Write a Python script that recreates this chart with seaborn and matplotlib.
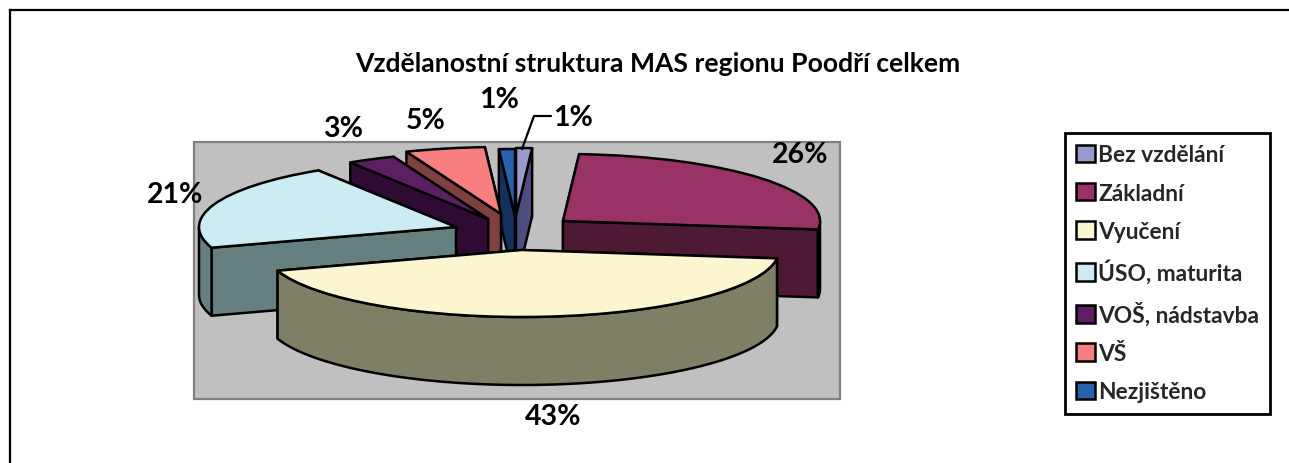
import numpy as np
import matplotlib
matplotlib.use("Agg")
import matplotlib.pyplot as plt
from matplotlib.patches import Polygon, Patch, Rectangle
import seaborn as sns

# ---- data ----
categories = ["Bez vzdělání", "Základní", "Vyučení", "ÚSO, maturita", "VOŠ, nádstavba", "VŠ", "Nezjištěno"]
shares = [1, 26, 43, 21, 3, 5, 1]
title_text = "Vzdělanostní struktura MAS regionu Poodří celkem"

# ---- styles ----
top_colors = ["#9999cc", "#993366", "#fbf6cf", "#cdebf2", "#5c1f63", "#f77f7f", "#2561ac"]
side_colors = ["#4d4d7f", "#4d1933", "#7f7f66", "#668080", "#2f0a33", "#7f4040", "#16305e"]

W, H = 1289, 464
RX, RY, DEPTH = 257.0, 67.0, 68.0

sns.set_theme(style="white")
plt.rcParams["font.family"] = ["Lato", "DejaVu Sans"]
plt.rcParams["font.weight"] = "bold"
palette = sns.color_palette(top_colors)
side_palette = sns.color_palette(side_colors)

fig = plt.figure(figsize=(W / 100, H / 100), dpi=100, facecolor="white")
ax = fig.add_axes([0, 0, 1, 1])


def X(px):
    return px / RX


def Y(py):
    return (H - py) / RY


# apex of each exploded slice, in pixels (layout)
apex_px = [(516, 216), (563, 222), (522, 251), (456, 228), (488, 220), (501, 215), (515, 217)]
layer = [2, 5, 7, 6, 4, 3, 1]
LW = 1.8

wedges, _ = ax.pie(shares, colors=palette, startangle=90, counterclock=False,
                   wedgeprops=dict(edgecolor="black", linewidth=LW, joinstyle="round"))
ax.set_aspect("auto")
ax.set_xlim(0, W / RX)
ax.set_ylim(0, H / RY)
ax.axis("off")

dz = DEPTH / RY


def side(points, color, z):
    ax.add_patch(Polygon(points, closed=True, facecolor=color, edgecolor="black",
                         linewidth=LW, joinstyle="round", zorder=z))


for i, w in enumerate(wedges):
    cx, cy = X(apex_px[i][0]), Y(apex_px[i][1])
    z = layer[i] * 10
    w.set_center((cx, cy))
    w.set_zorder(z + 5)
    a1, a2 = w.theta1, w.theta2

    def radial(a):
        ox, oy = cx + np.cos(np.radians(a)), cy + np.sin(np.radians(a))
        return [(cx, cy), (ox, oy), (ox, oy - dz), (cx, cy - dz)]

    # faces further from the viewer are painted first
    left = np.cos(np.radians((a1 + a2) / 2)) < 0
    first, second = (a1, a2) if left else (a2, a1)
    side(radial(first), side_palette[i], z + 1)
    side(radial(second), side_palette[i], z + 2)
    # outer rim that faces the viewer (lower half of the ellipse)
    sweep = np.linspace(a1, a2, 240)
    sweep = sweep[np.sin(np.radians(sweep)) <= 0]
    if sweep.size > 1:
        rad = np.radians(sweep)
        rim_top = np.c_[cx + np.cos(rad), cy + np.sin(rad)]
        rim_bot = rim_top - [0, dz]
        side(np.vstack([rim_top, rim_bot[::-1]]), side_palette[i], z + 3)

# plot area
ax.add_patch(Rectangle((X(194), Y(400)), X(840) - X(194), Y(143) - Y(400), facecolor="#c0c0c0",
                       edgecolor="#808080", linewidth=1.6, zorder=1))

# outer chart frame
ax.plot([X(10), X(10)], [Y(H), Y(11)], color="black", lw=1.6, zorder=2, solid_capstyle="projecting")
ax.plot([X(10), X(W)], [Y(11), Y(11)], color="black", lw=1.6, zorder=2, solid_capstyle="projecting")

# title
ax.text(X(657.5), Y(64), title_text, ha="center", va="center", fontsize=19.1, fontweight="bold",
        color="black", zorder=200)

# percentage labels (slice order)
label_px = [(573, 118), (800, 155), (553, 417), (175, 195), (343, 129), (426, 121), (499, 100)]
for v, (lx, ly) in zip(shares, label_px):
    ax.text(X(lx), Y(ly), f"{v}%", ha="center", va="center", fontsize=20.5, fontweight="bold",
            color="black", zorder=200)

# leader line of the first label
ax.plot([X(522), X(534), X(551)], [Y(150), Y(117), Y(117)], color="black", lw=1.6, zorder=150)

# legend
handles = [Patch(facecolor=c, edgecolor="black", linewidth=1.8) for c in palette]
leg = ax.legend(handles, categories, loc="upper left", bbox_to_anchor=(1065 / W, 1 - 134 / H),
                bbox_transform=fig.transFigure, frameon=True, fancybox=False, framealpha=1,
                edgecolor="black", borderaxespad=0, prop={"family": "Lato", "weight": "bold", "size": 16.4},
                handlelength=0.8, handleheight=0.8, handletextpad=0.15, labelspacing=0.76,
                borderpad=0.5)
leg.get_frame().set_linewidth(2.0)
leg.set_zorder(300)

fig.savefig("out.png", dpi=100, facecolor="white")
